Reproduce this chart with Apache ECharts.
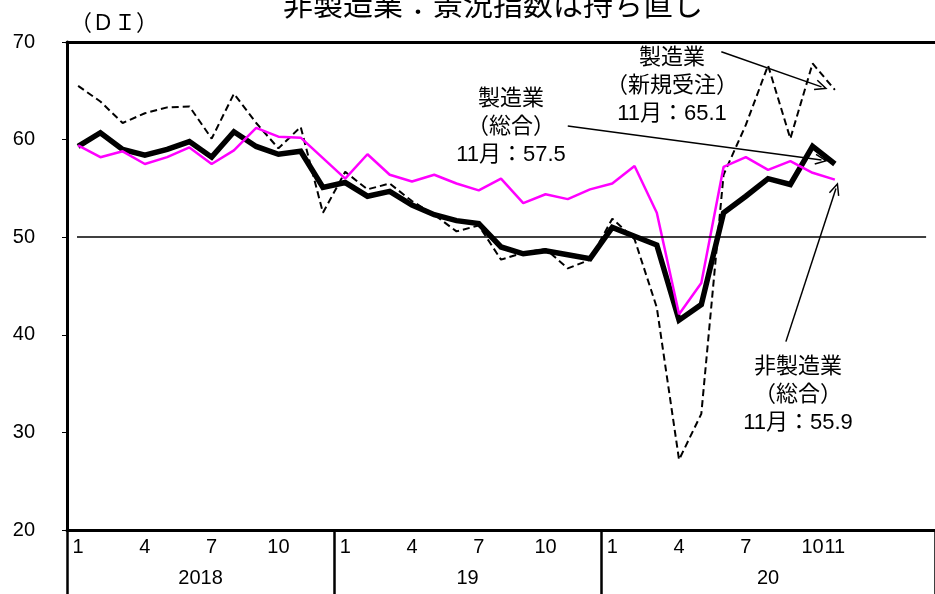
<!DOCTYPE html>
<html lang="ja">
<head>
<meta charset="UTF-8">
<title>景況指数</title>
<script src="https://cdn.jsdelivr.net/npm/echarts@6/dist/echarts.min.js"></script>
<style>
  html, body { margin: 0; padding: 0; background: #fff; }
  #main { width: 935px; height: 594px; }
</style>
</head>
<body>
<div id="main"></div>
<script>
// 2018/1 ～ 2021/3 (39 slots, data to 2020/11)
var years = [2018, 2019, 2020, 2021];
var categories = [];
for (var y = 0; y < years.length; y++) {
  for (var m = 1; m <= 12; m++) {
    if (categories.length < 39) categories.push(years[y] + '/' + m);
  }
}
// indices of the month labels shown under the axis
var labelIdx = [0, 3, 6, 9, 12, 15, 18, 21, 24, 27, 30, 33, 34];
// year labels (position in slot units on the helper axis)
var yearLabels = { 6: '2018', 18: '19', 31.5: '20' };

// 製造業（総合）
var manufacturing = [
  59.3, 60.7, 59.0, 58.4, 59.0, 59.8, 58.2, 60.8, 59.3, 58.5, 58.8, 55.1,
  55.6, 54.2, 54.7, 53.3, 52.3, 51.7, 51.4, 49.0, 48.3, 48.6, 48.2, 47.8,
  51.0, 50.1, 49.2, 41.5, 43.1, 52.5, 54.2, 56.0, 55.4, 59.3, 57.5
];
// 製造業（新規受注）
var newOrders = [
  65.5, 63.9, 61.7, 62.7, 63.3, 63.4, 60.1, 64.7, 61.7, 59.1, 61.3, 52.5,
  56.7, 54.9, 55.5, 53.7, 52.3, 50.6, 51.2, 47.7, 48.4, 48.8, 46.8, 47.7,
  51.9, 49.8, 42.8, 27.2, 31.9, 56.4, 61.5, 67.6, 60.1, 67.8, 65.1
];
// 非製造業（総合）
var nonManufacturing = [
  59.4, 58.2, 58.8, 57.5, 58.2, 59.2, 57.5, 58.9, 61.2, 60.3, 60.2, 58.1,
  56.0, 58.5, 56.4, 55.7, 56.4, 55.5, 54.8, 56.0, 53.5, 54.4, 53.9, 54.9,
  55.5, 57.3, 52.5, 42.1, 45.3, 57.2, 58.2, 56.9, 57.8, 56.6, 55.9
];

var FONT = "'Liberation Sans', 'Noto Sans CJK JP', sans-serif";
var openArrow = 'path://M5,0L10,11L8.8,11.6L5,3.2L1.2,11.6L0,11Z';

var chart = echarts.init(document.getElementById('main'));

var option = {
  animation: false,
  backgroundColor: '#fff',
  grid: { left: 67, right: 0, top: 42, bottom: 64, containLabel: false },
  xAxis: [
    {
      type: 'category',
      data: categories,
      boundaryGap: true,
      axisLine: { lineStyle: { color: '#000', width: 3 } },
      axisTick: {
        show: true,
        inside: false,
        length: 64,
        interval: function (i) { return i % 12 === 0 && i < 36; },
        lineStyle: { color: '#000', width: 2.5 }
      },
      axisLabel: {
        interval: 0,
        color: '#000',
        fontSize: 20,
        fontFamily: FONT,
        margin: 7,
        formatter: function (v, i) {
          if (labelIdx.indexOf(i) < 0) return '';
          return v.split('/')[1];
        }
      },
      splitLine: { show: false }
    },
    {
      type: 'value',
      position: 'bottom',
      offset: 30,
      min: 0, max: 39, interval: 1.5,
      axisLine: { show: false },
      axisTick: { show: false },
      splitLine: { show: false },
      axisLabel: {
        color: '#000', fontSize: 20, fontFamily: FONT, margin: 8,
        showMinLabel: false, showMaxLabel: false,
        formatter: function (v) { return yearLabels[v] || ''; }
      }
    },
    {
      type: 'value',
      position: 'top',
      min: 0, max: 39,
      axisLine: { show: true, lineStyle: { color: '#000', width: 3 } },
      axisTick: { show: false },
      axisLabel: { show: false },
      splitLine: { show: false }
    }
  ],
  yAxis: {
    type: 'value',
    min: 20, max: 70, interval: 10,
    axisLine: { show: true, lineStyle: { color: '#000', width: 3 } },
    axisTick: { show: true, length: 5, lineStyle: { color: '#000', width: 1 } },
    axisLabel: { color: '#000', fontSize: 20, fontFamily: FONT, margin: 32 },
    splitLine: { show: false }
  },
  graphic: [
    { type: 'text', x: 493, y: -8, style: { text: '非製造業：景況指数は持ち直し', fontSize: 30, fontFamily: FONT, fill: '#000', align: 'center', verticalAlign: 'top' } },
    { type: 'text', x: 114, y: 24, style: { text: '（ＤＩ）', fontSize: 22, fontFamily: FONT, fill: '#000', align: 'center', verticalAlign: 'middle' } },
    { type: 'text', x: 672, y: 86, style: { text: '製造業\n（新規受注）\n11月：65.1', fontSize: 22, lineHeight: 28, fontFamily: FONT, fill: '#000', align: 'center', verticalAlign: 'middle' } },
    { type: 'text', x: 511, y: 127, style: { text: '製造業\n（総合）\n11月：57.5', fontSize: 22, lineHeight: 28, fontFamily: FONT, fill: '#000', align: 'center', verticalAlign: 'middle' } },
    { type: 'text', x: 798, y: 395, style: { text: '非製造業\n（総合）\n11月：55.9', fontSize: 22, lineHeight: 28, fontFamily: FONT, fill: '#000', align: 'center', verticalAlign: 'middle' } }
  ],
  series: [
    {
      name: '製造業（総合）',
      type: 'line',
      data: manufacturing,
      symbol: 'none',
      lineStyle: { color: '#000', width: 5.5, join: 'miter' },
      z: 2
    },
    {
      name: '製造業（新規受注）',
      type: 'line',
      data: newOrders,
      symbol: 'none',
      lineStyle: { color: '#000', width: 2, type: [7, 4] },
      z: 3
    },
    {
      name: '非製造業（総合）',
      type: 'line',
      data: nonManufacturing,
      symbol: 'none',
      lineStyle: { color: '#ff00ff', width: 2.5 },
      z: 4
    },
    {
      name: 'annot',
      type: 'line',
      xAxisIndex: 1,
      data: [],
      symbol: 'none',
      silent: true,
      markLine: {
        silent: true,
        animation: false,
        label: { show: false },
        emphasis: { disabled: true },
        lineStyle: { color: '#000', width: 1.5, type: 'solid' },
        data: [
          [{ coord: [0.45, 50], symbol: 'none' }, { coord: [38.6, 50], symbol: 'none' }],
          [{ coord: [29.4, 69.0], symbol: 'none' }, { coord: [33.9, 65.4], symbol: openArrow, symbolSize: [11, 13] }],
          [{ coord: [22.5, 61.4], symbol: 'none' }, { coord: [33.9, 57.9], symbol: openArrow, symbolSize: [11, 13] }],
          [{ coord: [32.3, 39.3], symbol: 'none' }, { coord: [34.55, 55.0], symbol: openArrow, symbolSize: [11, 13] }]
        ]
      }
    }
  ]
};

chart.setOption(option);
</script>
</body>
</html>
